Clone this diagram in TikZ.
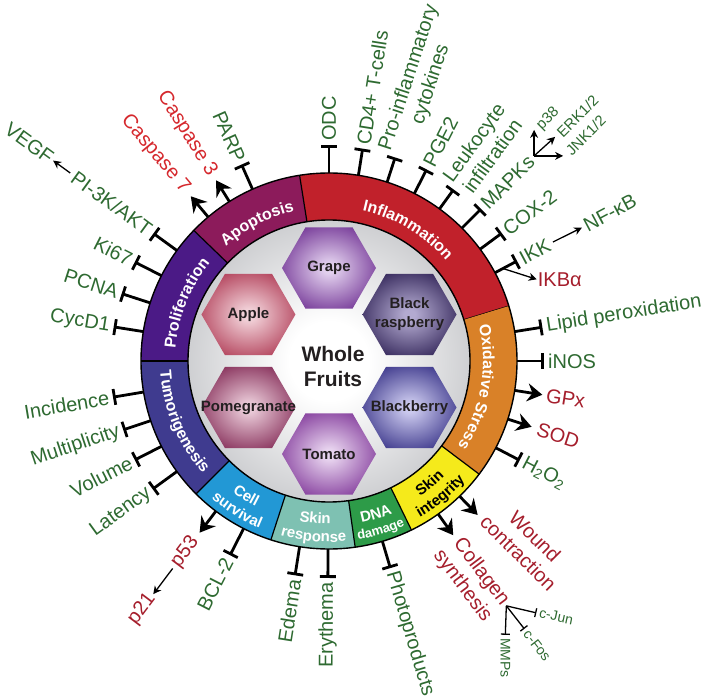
\documentclass[tikz,border=0pt]{standalone}
\usepackage{fontspec}
\setmainfont{Liberation Sans}
\usetikzlibrary{arrows.meta,decorations.text}

\definecolor{tgreen}{HTML}{2E6A31}
\definecolor{tred}{HTML}{D5282D}
\definecolor{dred}{HTML}{A51E2C}
\definecolor{cInfl}{HTML}{C1212B}
\definecolor{cApop}{HTML}{8C1B5B}
\definecolor{cProl}{HTML}{4B1A86}
\definecolor{cTumo}{HTML}{3F3B8F}
\definecolor{cCell}{HTML}{2298D5}
\definecolor{cSkre}{HTML}{7EC1B2}
\definecolor{cDNA}{HTML}{2D9B48}
\definecolor{cSkin}{HTML}{F5EA1B}
\definecolor{cOxid}{HTML}{D98128}
\definecolor{fruittext}{HTML}{231F20}
\definecolor{discmid}{HTML}{C9CACD}
\definecolor{discout}{HTML}{898B90}
\definecolor{grIn}{HTML}{E2D0EE}\definecolor{grOut}{HTML}{763A98}
\definecolor{apIn}{HTML}{F2D2D9}\definecolor{apOut}{HTML}{B3435C}
\definecolor{brIn}{HTML}{B3AAD0}\definecolor{brOut}{HTML}{36295C}
\definecolor{pmIn}{HTML}{E9C9D7}\definecolor{pmOut}{HTML}{88325C}
\definecolor{bbIn}{HTML}{CBC9EE}\definecolor{bbOut}{HTML}{3E398C}
\definecolor{tmIn}{HTML}{E8D4EF}\definecolor{tmOut}{HTML}{86409E}

\pgfdeclareradialshading{discsh}{\pgfpoint{0bp}{0bp}}{color(0bp)=(white); color(7bp)=(white); color(27bp)=(discmid); color(50bp)=(discout)}
\pgfdeclareradialshading{grapesh}{\pgfpoint{0bp}{0bp}}{color(0bp)=(grIn); color(3bp)=(grIn); color(29bp)=(grOut); color(50bp)=(grOut)}
\pgfdeclareradialshading{applesh}{\pgfpoint{0bp}{0bp}}{color(0bp)=(apIn); color(3bp)=(apIn); color(29bp)=(apOut); color(50bp)=(apOut)}
\pgfdeclareradialshading{brsh}{\pgfpoint{0bp}{0bp}}{color(0bp)=(brIn); color(3bp)=(brIn); color(29bp)=(brOut); color(50bp)=(brOut)}
\pgfdeclareradialshading{pomsh}{\pgfpoint{0bp}{0bp}}{color(0bp)=(pmIn); color(3bp)=(pmIn); color(29bp)=(pmOut); color(50bp)=(pmOut)}
\pgfdeclareradialshading{bbsh}{\pgfpoint{0bp}{0bp}}{color(0bp)=(bbIn); color(3bp)=(bbIn); color(29bp)=(bbOut); color(50bp)=(bbOut)}
\pgfdeclareradialshading{tomsh}{\pgfpoint{0bp}{0bp}}{color(0bp)=(tmIn); color(3bp)=(tmIn); color(29bp)=(tmOut); color(50bp)=(tmOut)}

\def\wbf{\fontsize{16}{16}\selectfont\bfseries\color{white}}
\def\wbs{\fontsize{15}{15}\selectfont\bfseries\color{white}}
\def\wbd{\fontsize{13}{13}\selectfont\bfseries\color{white}}
\def\kbs{\fontsize{15}{15}\selectfont\bfseries\color{black}}

\tikzset{
  conn/.style={line width=2.8pt, black},
  inh/.style={conn, -{Bar[width=16pt,line width=2.8pt]}},
  act/.style={conn, -{Stealth[length=15pt,width=18pt,inset=5pt]}},
  thinact/.style={line width=1.3pt, -{Stealth[length=8pt,width=8pt,inset=2.5pt]}},
  thininh/.style={line width=1.3pt, -{Bar[width=9pt,line width=1.3pt]}},
  lbl/.style={font=\fontsize{20}{23}\selectfont, inner sep=0pt, text=tgreen, align=center},
  lbltwo/.style={font=\fontsize{20}{23}\selectfont, inner sep=1.5pt, text height=15pt, text depth=5pt},
  smlbl/.style={font=\fontsize{15}{16}\selectfont, inner sep=0pt, text=tgreen},
  forklbl/.style={font=\fontsize{14}{15}\selectfont, inner sep=0pt, text=tgreen},
  fruit/.style={font=\bfseries\fontsize{15}{19}\selectfont, text=fruittext, align=center},
}

% right-side label: name, angle, end radius, label radius, style, colour, text
\newcommand{\rlab}[7]{%
  \coordinate (#1s) at (#2:182pt);
  \coordinate (#1e) at (#2:#3pt);
  \draw[#5] (#1s) -- (#1e);
  \node[lbl, text=#6, anchor=west, rotate=#2] (#1) at (#2:#4pt) {#7};}
\newcommand{\llab}[7]{%
  \coordinate (#1s) at (#2:182pt);
  \coordinate (#1e) at (#2:#3pt);
  \draw[#5] (#1s) -- (#1e);
  \node[lbl, text=#6, anchor=east, rotate=#2+180] (#1) at (#2:#4pt) {#7};}
\newcommand{\ringseg}[3]{%
  \fill[#3] (#1:188pt) arc[start angle=#1, end angle=#2, radius=188pt]
    -- (#2:141pt) arc[start angle=#2, end angle=#1, radius=141pt] -- cycle;
  \draw[line width=1.2pt] (#1:141pt) -- (#1:188pt);}
\newcommand{\bandtext}[5]{%
  \path[decorate, decoration={text along path, text align=center, text={|#4|#5}}]
    (#1:#3pt) arc[start angle=#1, end angle=#2, radius=#3pt];}
\newcommand{\fruithex}[4]{%
  \begin{scope}[shift={(#1:93pt)}]
    \shade[shading=#2] (0:47pt) -- (60:47pt) -- (120:47pt) -- (180:47pt) -- (240:47pt) -- (300:47pt) -- cycle;
    \node[fruit] (#3) at (0,0) {#4};
  \end{scope}}

\begin{document}
\begin{tikzpicture}
\useasboundingbox (-329pt,-337pt) rectangle (374pt,361pt);

% ---------- connectors and labels ----------
\llab{cycd}{171}{218}{222}{inh}{tgreen}{CycD1}
\llab{pcna}{162}{218}{222}{inh}{tgreen}{PCNA}
\llab{kisix}{153}{218}{222}{inh}{tgreen}{Ki67}
\llab{pik}{144}{217}{221}{inh}{tgreen}{PI-3K/AKT}
\llab{casps}{130}{215}{222}{act}{tred}{Caspase 7}
\llab{caspt}{122}{213}{220}{act}{tred}{Caspase 3}
\llab{parp}{114}{215}{219}{inh}{tgreen}{PARP}

\rlab{odc}{90}{216}{220}{inh}{tgreen}{ODC}
\rlab{cdf}{81}{215}{219}{inh}{tgreen}{CD4+ T-cells}
\rlab{proi}{72}{214}{218}{inh}{tgreen}{Pro-inflammatory\\cytokines}
\rlab{pge}{63}{215}{219}{inh}{tgreen}{PGE2}
\rlab{leuk}{54}{212}{216}{inh}{tgreen}{Leukocyte\\infiltration}
\rlab{mapk}{45}{215}{219}{inh}{tgreen}{MAPKs}
\rlab{cox}{36.5}{215}{219}{inh}{tgreen}{COX-2}
\rlab{ikk}{28}{213}{217}{inh}{tgreen}{IKK}
\rlab{lipid}{9}{216}{220}{inh}{tgreen}{Lipid peroxidation}
\rlab{inos}{0}{215}{219}{inh}{tgreen}{iNOS}
\rlab{gpx}{-9}{216}{220}{act}{dred}{GPx}
\rlab{sod}{-18}{213}{219}{act}{dred}{SOD}
\rlab{hoo}{-27.5}{215}{219}{inh}{tgreen}{H\textsubscript{2}O\textsubscript{2}}
\rlab{photo}{-73.5}{216}{220}{inh}{tgreen}{Photoproducts}

\llab{ery}{269.7}{217}{221}{inh}{tgreen}{Erythema}
\llab{edema}{261}{217}{221}{inh}{tgreen}{Edema}
\llab{bcl}{243}{218}{222}{inh}{tgreen}{BCL-2}
\llab{pft}{233}{215}{222}{act}{dred}{p53}
\llab{lat}{216}{218}{222}{inh}{tgreen}{Latency}
\llab{vol}{207}{218}{222}{inh}{tgreen}{Volume}
\llab{mult}{198.5}{217}{221}{inh}{tgreen}{Multiplicity}
\llab{inc}{189.5}{219}{223}{inh}{tgreen}{Incidence}

% VEGF
\node[lbl, anchor=east, rotate=-36] (vegf) at (144:343pt) {VEGF};
\draw[thinact, shorten <=4pt, shorten >=2pt] (pik.west) -- (vegf.east);
% p21
\node[lbl, text=dred, anchor=east, rotate=53] (ptwo) at (233:294pt) {p21};
\draw[thinact, shorten <=4pt, shorten >=2pt] (pft.west) -- (ptwo.east);
% NF-kB
\node[lbl, anchor=west, rotate=28] (nfkb) at (27.8:289pt) {NF-κB};
\draw[thinact, shorten <=4pt, shorten >=3pt] (ikk.east) -- (nfkb.west);
% IKBa
\coordinate (ikkj) at (28:197pt);
\node[lbl, text=dred, anchor=west] (ikba) at (21.3:224pt) {IKBα};
\draw[thinact, shorten >=1pt] (ikkj) -- (ikba.west);

% MAPKs fork
\coordinate (mapkj) at ([shift={(45:4pt)}]mapk.east);
\coordinate (ptip) at ([shift={(0pt,26pt)}]mapkj);
\coordinate (etip) at ([shift={(21pt,19pt)}]mapkj);
\coordinate (jtip) at ([shift={(29pt,0pt)}]mapkj);
\draw[thinact] (mapkj) -- (ptip);
\draw[thinact] (mapkj) -- (etip);
\draw[thinact] (mapkj) -- (jtip);
\node[smlbl, anchor=west, rotate=45] (pte) at ([shift={(5pt,2pt)}]ptip) {p38};
\node[smlbl, anchor=west, rotate=45] (erk) at ([shift={(4pt,2pt)}]etip) {ERK1/2};
\node[smlbl, anchor=west, rotate=45] (jnk) at ([shift={(5pt,3pt)}]jtip) {JNK1/2};

% Wound contraction
\coordinate (wcs) at (-46:182pt);
\coordinate (wce) at (-46:214pt);
\draw[act] (wcs) -- (wce);
\node[lbltwo, text=dred, anchor=west, rotate=-45] (contr) at (-46:219pt) {contraction};
\node[lbltwo, text=dred, anchor=south, rotate=-45] (wound) at (contr.north) {Wound};

% Collagen synthesis
\coordinate (cos) at (-54.5:182pt);
\coordinate (coe) at (-54.5:214pt);
\draw[act] (cos) -- (coe);
\node[lbltwo, text=dred, anchor=west, rotate=-53] (col) at (-54.5:219pt) {Collagen};
\node[lbltwo, text=dred, anchor=north, rotate=-53] (synth) at (col.south) {synthesis};
\coordinate (colj) at ([shift={(-53:1pt)}]col.east);
\coordinate (cjun) at ([shift={(30pt,-7pt)}]colj);
\coordinate (cfos) at ([shift={(18pt,-23pt)}]colj);
\coordinate (mmps) at ([shift={(-1pt,-29pt)}]colj);
\draw[thininh] (colj) -- (cjun);
\draw[thininh] (colj) -- (cfos);
\draw[thininh] (colj) -- (mmps);
\node[forklbl, anchor=west, rotate=-12] (cjunl) at ([shift={(3pt,0pt)}]cjun) {c-Jun};
\node[forklbl, anchor=west, rotate=-52] (cfosl) at ([shift={(2pt,-3pt)}]cfos) {c-Fos};
\node[forklbl, anchor=west, rotate=-90] (mmpsl) at ([shift={(0pt,-3pt)}]mmps) {MMPs};

% ---------- central disc ----------
\shade[shading=discsh] (0,0) circle[radius=141pt];

% ---------- ring ----------
\ringseg{17}{99}{cInfl}
\ringseg{99}{136}{cApop}
\ringseg{136}{180}{cProl}
\ringseg{180}{225}{cTumo}
\ringseg{225}{252}{cCell}
\ringseg{252}{278}{cSkre}
\ringseg{278}{296}{cDNA}
\ringseg{296}{323}{cSkin}
\ringseg{323}{377}{cOxid}
\draw[line width=1.4pt] (0,0) circle[radius=188pt];
\draw[line width=1.4pt] (0,0) circle[radius=141pt];

% ---------- fruits ----------
\fruithex{90}{grapesh}{grape}{Grape}
\fruithex{150}{applesh}{apple}{Apple}
\fruithex{30}{brsh}{braspb}{Black\\raspberry}
\fruithex{210}{pomsh}{pomeg}{Pomegranate}
\fruithex{330}{bbsh}{blackb}{Blackberry}
\fruithex{270}{tomsh}{tomato}{Tomato}
\node[font=\bfseries\fontsize{21}{25}\selectfont, text=fruittext, align=center] (wf) at (4pt,-5pt) {Whole\\Fruits};

% ---------- band texts ----------
\bandtext{147}{88}{154}{\wbf}{Apoptosis}
\bandtext{110}{8}{154}{\wbf}{Inflammation}
\bandtext{190}{126}{154}{\wbf}{Proliferation}
\bandtext{27}{-47}{154}{\wbf}{Oxidative Stress}
\bandtext{167}{238}{169}{\wbf}{Tumorigenesis}
\bandtext{218}{259}{163}{\wbs}{Cell}
\bandtext{218}{259}{181}{\wbs}{survival}
\bandtext{244}{286}{163}{\wbs}{Skin}
\bandtext{244}{286}{181}{\wbs}{response}
\bandtext{266}{308}{165}{\wbs}{DNA}
\bandtext{266}{308}{181}{\wbd}{damage}
\bandtext{289}{330}{163}{\kbs}{Skin}
\bandtext{289}{330}{181}{\kbs}{integrity}
\end{tikzpicture}
\end{document}
